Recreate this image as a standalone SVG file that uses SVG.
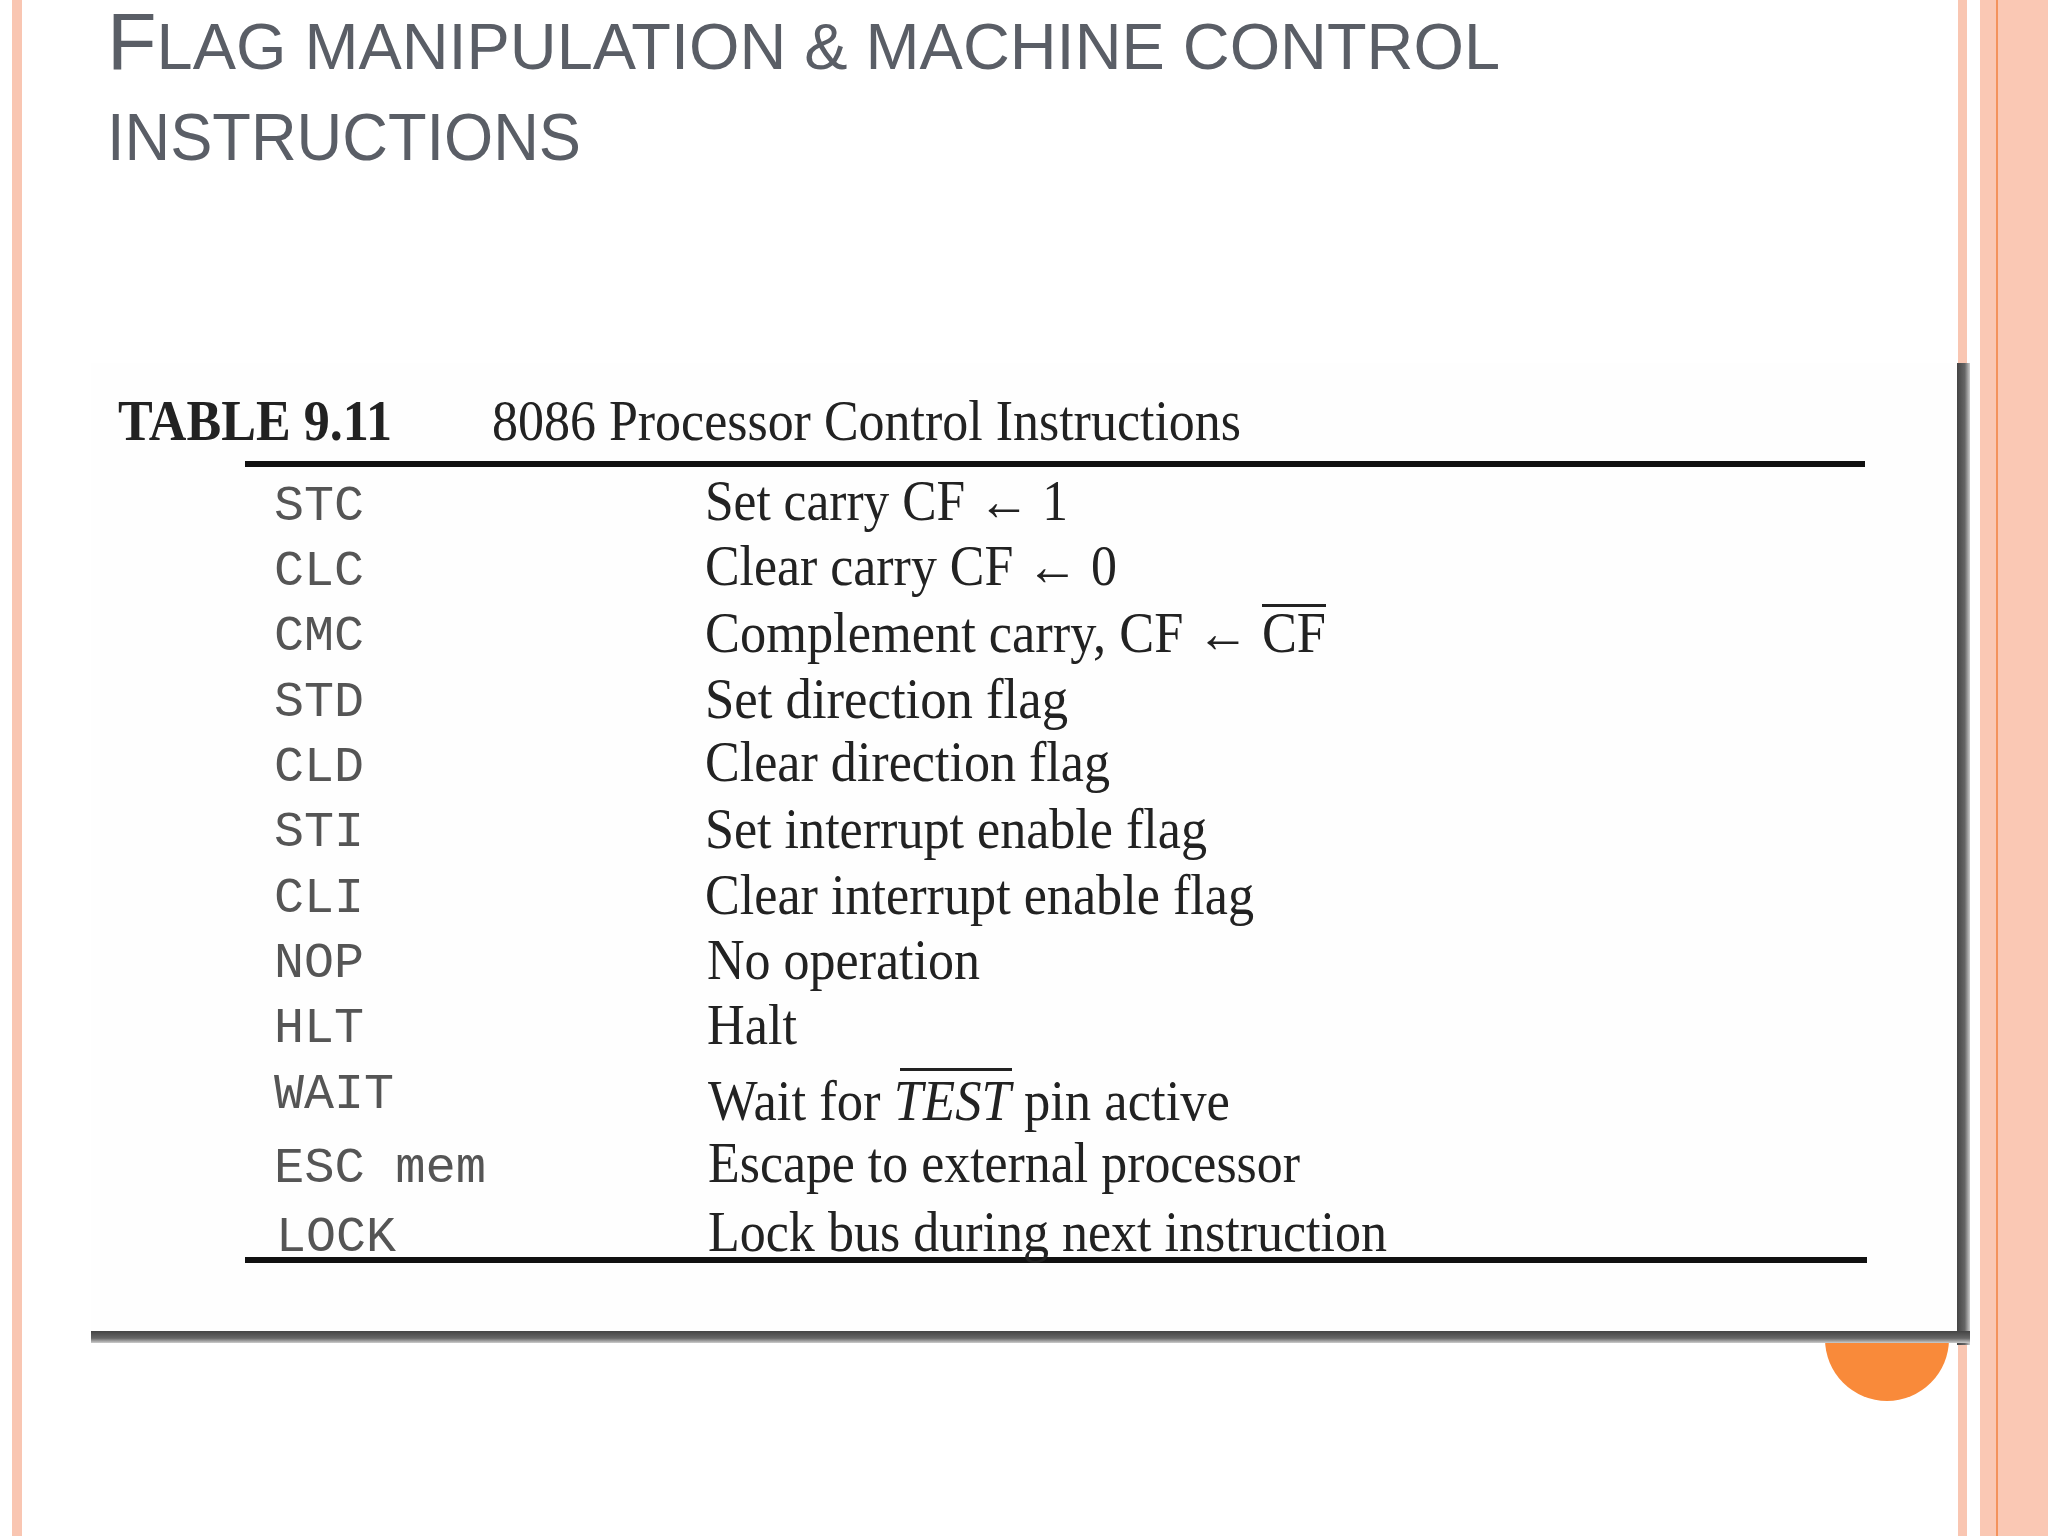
<svg xmlns="http://www.w3.org/2000/svg" width="2048" height="1536" viewBox="0 0 2048 1536">
<defs>
<style>
.t{font-family:"Liberation Sans",Arial,sans-serif;fill:#5a5e66}
.m{font-family:"Liberation Mono","DejaVu Sans Mono",monospace;font-size:50px;fill:#555}
.d{font-family:"Liberation Serif","Times New Roman",serif;font-size:56px;fill:#222}
</style>
<linearGradient id="vs" x1="0" x2="1" y1="0" y2="0"><stop offset="0" stop-color="#444"/><stop offset="0.6" stop-color="#666"/><stop offset="1" stop-color="#ccc"/></linearGradient>
<linearGradient id="hs" x1="0" x2="0" y1="0" y2="1"><stop offset="0" stop-color="#444"/><stop offset="0.6" stop-color="#666"/><stop offset="1" stop-color="#ccc"/></linearGradient>
</defs>
<rect width="2048" height="1536" fill="#fff"/>
<g id="borders">
<rect x="12" y="0" width="10" height="1536" fill="#f9c6b2"/>
<rect x="1958" y="0" width="9" height="1536" fill="#f9c6b2"/>
<rect x="1980" y="0" width="68" height="1536" fill="#fac8b4"/>
<rect x="1996" y="0" width="2" height="1536" fill="#f4935c"/>
</g>
<g id="circle"><circle cx="1887" cy="1339" r="62" fill="#f98a3a"/></g>
<g id="table">
<rect x="91" y="363" width="1870" height="972" fill="#fefefe"/>
<rect x="1957" y="363" width="13" height="982" fill="url(#vs)"/>
<rect x="91" y="1331" width="1879" height="12" fill="url(#hs)"/>
<text x="118" y="440" font-family="Liberation Serif,serif" font-weight="bold" font-size="56" fill="#222" textLength="274" lengthAdjust="spacingAndGlyphs">TABLE 9.11</text>
<text x="492" y="440" class="d" textLength="749" lengthAdjust="spacingAndGlyphs">8086 Processor Control Instructions</text>
<rect x="245" y="461" width="1620" height="6" fill="#111"/>
<rect x="245" y="1257" width="1622" height="6" fill="#111"/>
<g class="mn">
<text class="m" x="274" y="520">STC</text>
<text class="m" x="274" y="585">CLC</text>
<text class="m" x="274" y="650">CMC</text>
<text class="m" x="274" y="716">STD</text>
<text class="m" x="274" y="781">CLD</text>
<text class="m" x="274" y="846">STI</text>
<text class="m" x="274" y="912">CLI</text>
<text class="m" x="274" y="977">NOP</text>
<text class="m" x="274" y="1042">HLT</text>
<text class="m" x="274" y="1108">WAIT</text>
<text class="m" x="274" y="1182" textLength="212" lengthAdjust="spacingAndGlyphs">ESC mem</text>
<text class="m" x="276" y="1251">LOCK</text>
</g>
<g class="desc">
<text class="d" x="705" y="520" textLength="363" lengthAdjust="spacingAndGlyphs">Set carry CF ← 1</text>
<text class="d" x="705" y="585" textLength="412" lengthAdjust="spacingAndGlyphs">Clear carry CF ← 0</text>
<text class="d" x="705" y="652" textLength="621" lengthAdjust="spacingAndGlyphs">Complement carry, CF ← CF</text>
<rect x="1262" y="604" width="64" height="3" fill="#222"/>
<text class="d" x="705" y="718" textLength="363" lengthAdjust="spacingAndGlyphs">Set direction flag</text>
<text class="d" x="705" y="781" textLength="405" lengthAdjust="spacingAndGlyphs">Clear direction flag</text>
<text class="d" x="705" y="848" textLength="502" lengthAdjust="spacingAndGlyphs">Set interrupt enable flag</text>
<text class="d" x="705" y="914" textLength="549" lengthAdjust="spacingAndGlyphs">Clear interrupt enable flag</text>
<text class="d" x="707" y="979" textLength="273" lengthAdjust="spacingAndGlyphs">No operation</text>
<text class="d" x="707" y="1044" textLength="90" lengthAdjust="spacingAndGlyphs">Halt</text>
<text class="d" x="708" y="1120" textLength="522" lengthAdjust="spacingAndGlyphs">Wait for <tspan font-style="italic">TEST</tspan> pin active</text>
<rect x="900" y="1068" width="112" height="3" fill="#222"/>
<text class="d" x="708" y="1182" textLength="592" lengthAdjust="spacingAndGlyphs">Escape to external processor</text>
<text class="d" x="708" y="1251" textLength="679" lengthAdjust="spacingAndGlyphs">Lock bus during next instruction</text>
</g>
</g>
<g id="title">
<text class="t" x="107" y="69" font-size="64" textLength="1393" lengthAdjust="spacingAndGlyphs"><tspan font-size="80">F</tspan>LAG MANIPULATION &amp; MACHINE CONTROL</text>
<text class="t" x="107" y="160" font-size="66" textLength="474" lengthAdjust="spacingAndGlyphs">INSTRUCTIONS</text>
</g>
</svg>
